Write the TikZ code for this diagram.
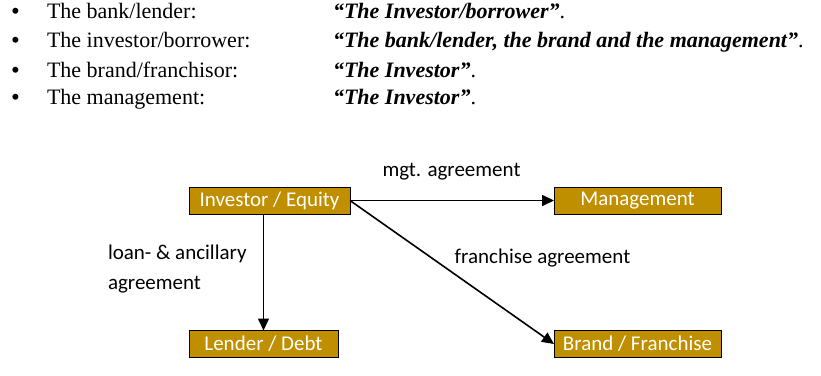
\documentclass[tikz,border=0pt]{standalone}
\usepackage{fontspec}
\setmainfont{Liberation Serif}
\newfontfamily\boxfont{Carlito}
\usepackage{tikz}
\usetikzlibrary{arrows.meta,positioning}
\definecolor{gold}{HTML}{BF8F00}

\begin{document}
\begin{tikzpicture}[x=1pt,y=-1pt,
  every node/.style={inner sep=0pt,outer sep=0pt},
  party/.style={draw=black,line width=1pt,fill=gold,text=white,font=\boxfont\fontsize{21}{24}\selectfont,minimum height=27pt},
  deal/.style={font=\boxfont\fontsize{21}{30}\selectfont,align=left},
  role/.style={anchor=base west,font=\fontsize{22}{26}\selectfont},
  quote/.style={anchor=base west,font=\fontsize{22}{26}\selectfont\bfseries\itshape},
  link/.style={-{Triangle[length=12pt,width=11pt]},line width=1.6pt}]
\useasboundingbox (0,0) rectangle (821,375);
% who is called what
\foreach \y/\who/\what [count=\i] in {18/The bank\slash lender:/{``The Investor\slash borrower''},
  47/The investor\slash borrower:/{``The bank\slash lender, the brand and the management''},
  77/The brand\slash franchisor:/{``The Investor''},
  104/The management:/{``The Investor''}} {
  \node[role,font=\fontsize{25}{25}\selectfont] (bul\i) at (11,\y+1) {\textbullet};
  \node[role] (who\i) at (47,\y) {\who};
  \node[quote] (what\i) at (333,\y) {\what\normalfont.};
}
% parties
\node[party,minimum width=161pt] (investor) at (269.5,200.5) {Investor / Equity};
\node[party,minimum width=167pt] (mgmt) at (637.5,200.5) {Management};
\node[party,minimum width=149pt] (lender) at (263.5,344) {Lender / Debt};
\node[party,minimum width=167pt] (brand) at (637.5,344) {Brand / Franchise};
% agreements
\draw[link] (investor.east) -- (mgmt.west);
\draw[link] (investor.south -| lender.north) -- (lender.north);
\draw[link] (investor.east) -- (brand.west);
\node[deal] (mgtdeal) at (451.5,172) {mgt. agreement};
\node[deal,anchor=north west] (loandeal) at (108,245) {loan- \& ancillary\\agreement};
\node[deal] (frdeal) at (542.5,258) {franchise agreement};
\end{tikzpicture}
\end{document}
